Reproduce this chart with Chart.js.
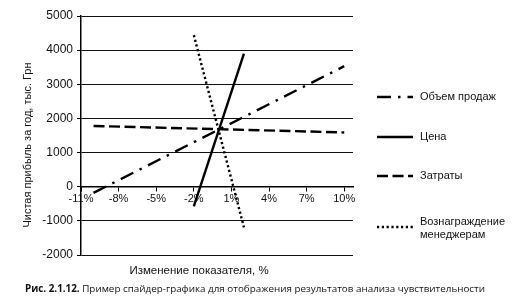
<!DOCTYPE html>
<html>
<head>
<meta charset="utf-8">
<script src="https://cdn.jsdelivr.net/npm/chart.js@4"></script>
<style>
html,body{margin:0;padding:0;background:#fff;}
#wrap{position:relative;width:527px;height:304px;}
</style>
</head>
<body>
<div id="wrap"><canvas id="c" width="527" height="304"></canvas></div>
<script>
// ---- data ----
const xTickValues = [-11, -8, -5, -2, 1, 4, 7, 10];           // % change, x tick labels
const yTickValues = [-2000, -1000, 0, 1000, 2000, 3000, 4000, 5000];

const seriesNames = ['Объем продаж', 'Цена', 'Затраты', 'Вознаграждение менеджерам'];

const salesX = [-10, 10];
const salesY = [-180, 3530];

const priceX = [-2, 2];
const priceY = [-575, 3900];

const costsX = [-10, 10];
const costsY = [1780, 1590];

const bonusX = [-2, 2];
const bonusY = [4440, -1190];

const yTitle = 'Чистая прибыль за год, тыс. Грн';
const xTitle = 'Изменение показателя, %';
const captionBold = 'Рис. 2.1.12.';
const captionText = ' Пример спайдер-графика для отображения результатов анализа чувствительности';

// ---- styles ----
const dashes = [[14, 7, 2.5, 7], [], [11, 4.5], [2.2, 2.6]];
const LW = 2.4;

function pts(xs, ys) { return xs.map((x, i) => ({x: x, y: ys[i]})); }

const datasets = [
  {label: seriesNames[0], data: pts(salesX, salesY)},
  {label: seriesNames[1], data: pts(priceX, priceY)},
  {label: seriesNames[2], data: pts(costsX, costsY)},
  {label: seriesNames[3], data: pts(bonusX, bonusY)}
].map((d, i) => Object.assign(d, {
  borderColor: '#000',
  borderWidth: LW,
  borderDash: dashes[i],
  borderCapStyle: 'butt',
  pointRadius: 0,
  fill: false,
  tension: 0
}));

const AXIS_FONT = '"Liberation Sans", Arial, sans-serif';

const annotations = {
  id: 'annotations',
  afterDraw(chart) {
    const ctx = chart.ctx;
    ctx.save();
    ctx.fillStyle = '#111';
    // y axis title
    ctx.font = '11px ' + AXIS_FONT;
    ctx.translate(28, 145);
    ctx.rotate(-Math.PI / 2);
    ctx.textAlign = 'center';
    ctx.textBaseline = 'middle';
    ctx.fillText(yTitle, 0, 0);
    ctx.setTransform(1, 0, 0, 1, 0, 0);
    // x axis title
    ctx.font = '11.5px ' + AXIS_FONT;
    ctx.textAlign = 'center';
    ctx.textBaseline = 'middle';
    ctx.fillText(xTitle, 199, 271);
    // caption
    ctx.textAlign = 'left';
    ctx.textBaseline = 'middle';
    ctx.font = 'bold 9.85px "Open Sans", sans-serif';
    ctx.fillText(captionBold, 25, 289);
    const w = ctx.measureText(captionBold).width;
    ctx.font = '9.85px "Open Sans", sans-serif';
    ctx.fillText(captionText, 25 + w, 289);
    // legend
    const ys = [97, 137, 176, 227];
    chart.data.datasets.forEach((ds, i) => {
      ctx.beginPath();
      ctx.lineWidth = LW;
      ctx.strokeStyle = '#000';
      ctx.lineCap = 'butt';
      ctx.setLineDash(ds.borderDash);
      ctx.moveTo(377, ys[i]);
      ctx.lineTo(413, ys[i]);
      ctx.stroke();
    });
    ctx.setLineDash([]);
    ctx.font = '11px ' + AXIS_FONT;
    ctx.fillStyle = '#111';
    ctx.fillText(seriesNames[0], 420, 97);
    ctx.fillText(seriesNames[1], 420, 137);
    ctx.fillText(seriesNames[2], 420, 176);
    const parts = seriesNames[3].split(' ');
    ctx.fillText(parts[0], 420, 222);
    ctx.fillText(parts[1], 420, 235);
    ctx.restore();
  }
};

new Chart(document.getElementById('c'), {
  type: 'line',
  data: {datasets: datasets},
  options: {
    responsive: false,
    animation: false,
    layout: {padding: {left: 0, top: 16, right: 174, bottom: 49}},
    plugins: {legend: {display: false}, tooltip: {enabled: false}},
    scales: {
      x: {
        type: 'linear',
        position: {y: 0},
        min: -11,
        max: 10.7,
        afterBuildTicks(s) { s.ticks = xTickValues.map(v => ({value: v})); },
        grid: {drawOnChartArea: false, drawTicks: true, tickLength: 4, color: '#000', tickColor: '#000'},
        border: {display: true, color: '#000', width: 1.5},
        ticks: {
          color: '#111', padding: 2, maxRotation: 0, autoSkip: false,
          font: {size: 11, family: AXIS_FONT},
          callback: v => v + '%'
        }
      },
      y: {
        type: 'linear',
        min: -2000,
        max: 5000,
        afterBuildTicks(s) { s.ticks = yTickValues.map(v => ({value: v})); },
        afterFit(s) { s.width = 81; },
        grid: {color: '#111', lineWidth: 1, borderDash: [1, 1.5], tickBorderDash: [], tickColor: '#000', tickLength: 4, drawTicks: true},
        border: {display: true, color: '#000', width: 1.5},
        ticks: {
          color: '#111', padding: 4,
          font: {size: 12, family: AXIS_FONT},
          callback: v => String(v)
        }
      }
    }
  },
  plugins: [annotations]
});
</script>
</body>
</html>
